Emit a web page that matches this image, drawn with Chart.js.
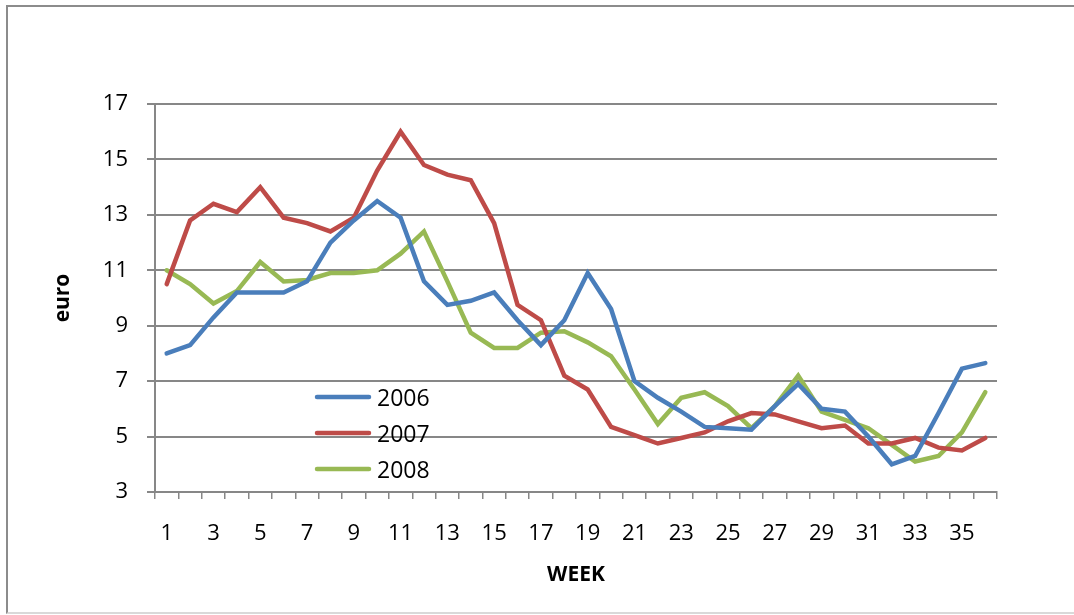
<!DOCTYPE html>
<html>
<head>
<meta charset="utf-8">
<script src="https://cdn.jsdelivr.net/npm/chart.js@4/dist/chart.umd.min.js"></script>
<style>
  html, body { margin: 0; padding: 0; background: #fff; overflow: hidden; }
  #frame {
    position: absolute; left: 6px; top: 5px; width: 1100px; height: 605px;
    border-top: 2px solid #8c8c8c; border-left: 2px solid #8c8c8c;
    border-bottom: 2px solid #d9d9d9;
  }
  #wrap { position: absolute; left: 0; top: 0; width: 1074px; height: 615px; }
</style>
</head>
<body>
<div id="frame"></div>
<div id="wrap"><canvas id="chart"></canvas></div>
<script>
// Weekly prices, euro
const weeks = ['1','2','3','4','5','6','7','8','9','10','11','12','13','14','15','16','17','18',
  '19','20','21','22','23','24','25','26','27','28','29','30','31','32','33','34','35','36'];

const prices2006 = [8.0, 8.3, 9.3, 10.2, 10.2, 10.2, 10.6, 12.0, 12.8, 13.5, 12.9, 10.6, 9.75, 9.9, 10.2, 9.2, 8.3, 9.2,
  10.9, 9.6, 7.0, 6.4, 5.9, 5.35, 5.3, 5.25, 6.1, 6.9, 6.0, 5.9, 5.0, 4.0, 4.3, 5.85, 7.45, 7.65];
const prices2007 = [10.5, 12.8, 13.4, 13.1, 14.0, 12.9, 12.7, 12.4, 12.9, 14.6, 16.0, 14.8, 14.45, 14.25, 12.7, 9.75, 9.2, 7.2,
  6.7, 5.35, 5.05, 4.75, 4.95, 5.15, 5.55, 5.85, 5.8, 5.55, 5.3, 5.4, 4.75, 4.75, 4.95, 4.6, 4.5, 4.95];
const prices2008 = [11.0, 10.5, 9.8, 10.25, 11.3, 10.6, 10.65, 10.9, 10.9, 11.0, 11.6, 12.4, 10.6, 8.75, 8.2, 8.2, 8.75, 8.8,
  8.4, 7.9, 6.7, 5.45, 6.4, 6.6, 6.1, 5.3, 6.1, 7.2, 5.9, 5.6, 5.3, 4.7, 4.1, 4.3, 5.15, 6.6];

const seriesLabels = ['2006', '2007', '2008'];
const seriesColors = ['#4a7ebb', '#be4b48', '#98b954'];

const FONT = "'Open Sans', 'Liberation Sans', sans-serif";
const axisGray = '#878787';

// Legend sits inside the plot area, like the original spreadsheet chart
const insideLegend = {
  id: 'insideLegend',
  afterDraw(chart) {
    const { ctx, chartArea } = chart;
    const x0 = chartArea.left + 162;
    const y0 = chartArea.top + 293;
    ctx.save();
    ctx.font = '23px ' + FONT;
    ctx.textBaseline = 'middle';
    ctx.lineCap = 'round';
    chart.data.datasets.forEach((ds, i) => {
      const y = y0 + i * 36;
      ctx.strokeStyle = ds.borderColor;
      ctx.lineWidth = 4.5;
      ctx.beginPath();
      ctx.moveTo(x0, y);
      ctx.lineTo(x0 + 52, y);
      ctx.stroke();
      ctx.fillStyle = '#000';
      ctx.fillText(ds.label, x0 + 60, y + 2);
    });
    ctx.restore();
  }
};

new Chart(document.getElementById('chart'), {
  type: 'line',
  data: {
    labels: weeks,
    datasets: [prices2006, prices2007, prices2008].map((d, i) => ({
      label: seriesLabels[i],
      data: d,
      borderColor: seriesColors[i],
      backgroundColor: seriesColors[i],
      borderWidth: 4.5,
      borderCapStyle: 'round',
      borderJoinStyle: 'miter',
      pointRadius: 0,
      tension: 0
    }))
  },
  options: {
    responsive: true,
    maintainAspectRatio: false,
    animation: false,
    layout: { padding: { left: 50, top: 104, right: 77, bottom: 0 } },
    plugins: {
      legend: { display: false },
      tooltip: { enabled: false }
    },
    scales: {
      x: {
        offset: true,
        grid: {
          offset: true,
          drawOnChartArea: false,
          drawTicks: true,
          tickLength: 7,
          color: axisGray,
          lineWidth: 1.5
        },
        border: { color: axisGray, width: 2 },
        ticks: {
          autoSkip: false,
          maxRotation: 0,
          color: '#000',
          padding: 22,
          font: { family: FONT, size: 22 },
          callback: function (value, index) { return index % 2 === 0 ? this.getLabelForValue(value) : ''; }
        },
        title: {
          display: true,
          text: 'WEEK',
          color: '#000',
          padding: { top: 0, bottom: 27 },
          font: { family: FONT, size: 21, weight: 'bold' }
        },
        afterFit: scale => { scale.height = 123; }
      },
      y: {
        min: 3,
        max: 17,
        grid: {
          color: axisGray,
          lineWidth: 2,
          tickLength: 8
        },
        border: { color: axisGray, width: 2 },
        ticks: {
          stepSize: 2,
          color: '#000',
          padding: 19,
          font: { family: FONT, size: 22 }
        },
        title: {
          display: true,
          text: 'euro',
          color: '#000',
          padding: 0,
          font: { family: FONT, size: 21, weight: 'bold' }
        },
        afterFit: scale => { scale.width = 105; }
      }
    }
  },
  plugins: [insideLegend]
});
</script>
</body>
</html>
